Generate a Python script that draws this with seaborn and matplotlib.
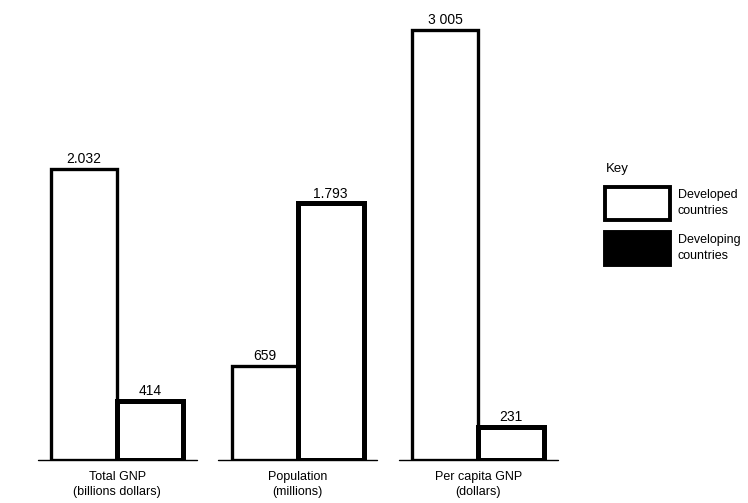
import pandas as pd
import seaborn as sns
import matplotlib.pyplot as plt
from matplotlib.patches import Patch

# data
measures = ["Total GNP\n(billions dollars)", "Population\n(millions)", "Per capita GNP\n(dollars)"]
developed = [2032, 659, 3005]
developing = [414, 1793, 231]
developed_labels = ["2.032", "659", "3 005"]
developing_labels = ["414", "1.793", "231"]
groups = ["Developed countries", "Developing countries"]

df = pd.DataFrame({
    "measure": measures * 2,
    "value": developed + developing,
    "group": [groups[0]] * 3 + [groups[1]] * 3,
})

sns.set_style("white")
plt.rcParams['font.family'] = ['Liberation Sans', 'DejaVu Sans']
plt.rcParams['text.color'] = 'black'
plt.rcParams['xtick.color'] = 'black'

fig = plt.figure(figsize=(7.48, 5.03), dpi=100)
ax = fig.add_axes([0.0, 0.0855, 0.80, 0.8946])

sns.barplot(data=df, x="measure", y="value", hue="group", palette=["white", "white"],
            edgecolor="black", linewidth=2.4, width=0.73, legend=False, ax=ax)

# developing bars drawn with heavier outline
for bar in ax.containers[1]:
    bar.set_linewidth(3.6)

ax.bar_label(ax.containers[0], labels=developed_labels, padding=2, fontsize=10)
ax.bar_label(ax.containers[1], labels=developing_labels, padding=2, fontsize=10)

# per-group baselines
for i in range(len(measures)):
    ax.plot([i - 0.44, i + 0.44], [0, 0], color="black", lw=1.0, clip_on=False)

ax.set_xlim((0 - 117) / 180.5, (598 - 117) / 180.5)
ax.set_ylim(0, 3145)
ax.set_xlabel("")
ax.set_ylabel("")
ax.set_yticks([])
ax.tick_params(axis="x", length=0, pad=8, labelsize=9)
for t in ax.get_xticklabels():
    t.set_linespacing(1.3)
sns.despine(ax=ax, left=True, bottom=True)

handles = [Patch(facecolor="white", edgecolor="black", linewidth=2.8),
           Patch(facecolor="black", edgecolor="black", linewidth=2.8)]
leg = fig.legend(handles, ["Developed\ncountries", "Developing\ncountries"], title="Key",
                 loc="upper left", bbox_to_anchor=(0.806, 0.68), frameon=False,
                 handlelength=5.2, handleheight=3.7, handletextpad=0.6,
                 labelspacing=0.95, fontsize=9, title_fontsize=9.5,
                 borderaxespad=0, borderpad=0.2)
leg._legend_box.align = "left"
for t in leg.get_texts():
    t.set_linespacing(1.4)

fig.savefig("out.png", dpi=100)
